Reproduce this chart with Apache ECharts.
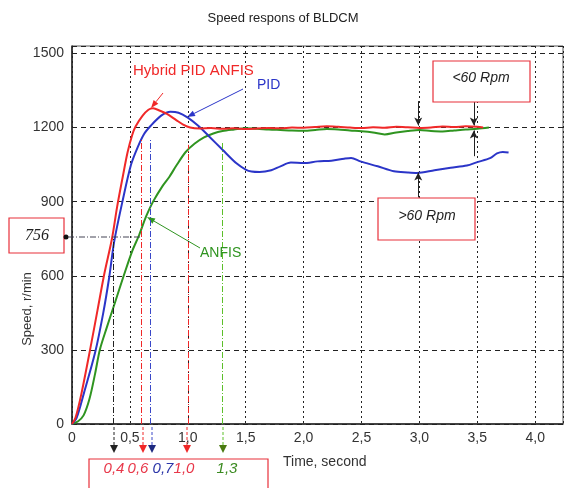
<!DOCTYPE html>
<html lang="en">
<head>
    <meta charset="UTF-8">
    <title>Speed respons of BLDCM</title>
    <script src="https://cdn.jsdelivr.net/npm/echarts@6/dist/echarts.min.js"></script>
    <style>
        html, body { margin: 0; padding: 0; background: #fff; }
        #main { width: 566px; height: 488px; }
    </style>
</head>
<body>
    <div id="main"></div>
    <script>
        // data: [time s, speed r/min]
        const hybridPidAnfis = [[0, 0], [0.03, 25], [0.08, 120], [0.16, 310], [0.22, 460], [0.28, 610], [0.345, 750], [0.39, 880], [0.44, 1005], [0.48, 1100], [0.52, 1170], [0.55, 1205], [0.61, 1248], [0.66, 1272], [0.7, 1278], [0.76, 1268], [0.82, 1255], [0.9, 1230], [0.96, 1212], [1.02, 1200], [1.1, 1196], [1.2, 1198], [1.3, 1195], [1.4, 1197], [1.5, 1194], [1.6, 1196], [1.7, 1198], [1.8, 1197], [1.9, 1200], [2.0, 1199], [2.1, 1202], [2.2, 1205], [2.3, 1203], [2.4, 1200], [2.5, 1198], [2.6, 1201], [2.7, 1199], [2.8, 1203], [2.9, 1201], [3.0, 1198], [3.1, 1200], [3.2, 1204], [3.3, 1202], [3.4, 1205], [3.5, 1203], [3.55, 1200]];
        const pid = [[0, 0], [0.04, 25], [0.1, 120], [0.2, 290], [0.27, 450], [0.32, 590], [0.365, 740], [0.44, 910], [0.51, 1050], [0.565, 1118], [0.62, 1172], [0.68, 1207], [0.77, 1248], [0.85, 1264], [0.92, 1260], [1.0, 1240], [1.09, 1207], [1.18, 1166], [1.3, 1110], [1.42, 1055], [1.5, 1030], [1.55, 1022], [1.62, 1020], [1.72, 1027], [1.8, 1043], [1.89, 1058], [2.0, 1056], [2.12, 1063], [2.24, 1066], [2.35, 1074], [2.41, 1077], [2.49, 1063], [2.64, 1043], [2.78, 1023], [2.9, 1018], [2.98, 1016], [3.13, 1027], [3.27, 1037], [3.41, 1046], [3.5, 1060], [3.61, 1076], [3.67, 1095], [3.72, 1101], [3.77, 1099]];
        const anfis = [[0, 0], [0.05, 10], [0.1, 35], [0.15, 100], [0.2, 205], [0.24, 300], [0.3, 390], [0.37, 490], [0.45, 605], [0.52, 700], [0.58, 765], [0.64, 840], [0.7, 900], [0.78, 962], [0.84, 1000], [0.9, 1045], [0.98, 1100], [1.06, 1135], [1.14, 1160], [1.22, 1176], [1.3, 1186], [1.4, 1192], [1.5, 1197], [1.6, 1195], [1.7, 1192], [1.8, 1190], [1.9, 1188], [2.0, 1187], [2.1, 1190], [2.2, 1194], [2.3, 1192], [2.4, 1188], [2.5, 1185], [2.6, 1180], [2.7, 1172], [2.8, 1180], [2.9, 1186], [3.0, 1190], [3.1, 1186], [3.2, 1184], [3.3, 1188], [3.4, 1192], [3.5, 1195], [3.6, 1200]];

        // marked times and the speed up to which their lines go
        const markTimes = [0.36, 0.6, 0.68, 1.0, 1.3];
        const markTops = [756, 1150, 1150, 1130, 1140];
        const markLabels = ['0,4', '0,6', '0,7', '1,0', '1,3'];

        const xTicks = [0, 0.5, 1.0, 1.5, 2.0, 2.5, 3.0, 3.5, 4.0];
        const yTicks = [0, 300, 600, 900, 1200, 1500];

        const RED = '#f02828', BLUE = '#2b35c8', GREEN = '#2f9420';
        const markColors = ['#222', RED, '#3a48c8', RED, '#5cbf2a'];
        const arrowColors = ['#222', RED, '#1e2a80', RED, '#4a7a10'];
        const markTextColors = ['#e8384a', '#e8384a', '#2b35a8', '#e8384a', '#3a8a20'];
        const FONT = '"Liberation Sans", Arial, sans-serif';

        const chart = echarts.init(document.getElementById('main'));

        function arrow(x1, y1, x2, y2, color, len = 8, w = 3) {
            const dx = x2 - x1, dy = y2 - y1;
            const d = Math.sqrt(dx * dx + dy * dy);
            const ux = dx / d, uy = dy / d;
            const bx = x2 - ux * len, by = y2 - uy * len;
            return {
                type: 'group',
                children: [
                    { type: 'line', shape: { x1: x1, y1: y1, x2: bx, y2: by }, style: { stroke: color, lineWidth: 1 } },
                    { type: 'polygon', shape: { points: [[x2, y2], [bx - uy * w, by + ux * w], [bx + uy * w, by - ux * w]] }, style: { fill: color } }
                ]
            };
        }

        function textBox(x, y, w, h) {
            return { type: 'rect', shape: { x: x, y: y, width: w, height: h }, style: { fill: '#fff', stroke: '#e8303a', lineWidth: 1.2 }, z: 100 };
        }

        function label(text, x, y, color, opts = {}) {
            return {
                type: 'text', x: x, y: y, z: 101, rotation: opts.rotation || 0,
                style: {
                    text: text, fill: color, font: (opts.italic ? 'italic ' : '') + (opts.size || 14) + 'px ' + (opts.family || FONT),
                    align: opts.align || 'left', verticalAlign: 'middle'
                }
            };
        }

        const dashDot = [6, 2, 1, 2];
        const verticalMarks = markTimes.map((t, i) => [
            { coord: [t, 0], lineStyle: { color: markColors[i], type: dashDot, width: 1 } },
            { coord: [t, markTops[i]] }
        ]);

        const rpmArrows = [
            [{ coord: [2.99, 1307] }, { coord: [2.99, 1208] }],
            [{ coord: [3.47, 1307] }, { coord: [3.47, 1208] }],
            [{ coord: [3.47, 1084] }, { coord: [3.47, 1188] }],
            [{ coord: [2.99, 917] }, { coord: [2.99, 1018] }]
        ];

        const graphics = [
            // legend labels with arrows
            label('Hybrid PID ANFIS', 133, 71, RED, { size: 15 }),
            arrow(163, 93, 151, 108, RED),
            label('PID', 257, 85, BLUE),
            arrow(243, 89, 187, 117, BLUE),
            label('ANFIS', 200, 253, GREEN),
            arrow(200, 248, 147, 217, GREEN),
            // 756 box
            textBox(9, 218, 55, 35),
            label('756', 37, 236, '#222', { italic: true, size: 16, align: 'center', family: '"Liberation Serif", serif' }),
            { type: 'circle', shape: { cx: 66, cy: 237, r: 2.5 }, style: { fill: '#111' }, z: 101 },
            { type: 'line', shape: { x1: 68, y1: 237, x2: 142, y2: 237 }, style: { stroke: '#445', lineWidth: 1, lineDash: dashDot }, z: 101 },
            // rpm boxes
            textBox(433, 61, 97, 41),
            label('<60 Rpm', 481, 78, '#222', { italic: true, align: 'center' }),
            textBox(378, 198, 97, 42),
            label('>60 Rpm', 427, 216, '#222', { italic: true, align: 'center' }),
            // axis names
            label('Speed, r/min', 27, 309, '#333', { rotation: Math.PI / 2, align: 'center', size: 13 }),
            label('Time, second', 283, 462, '#333'),
            // bottom box with times
            textBox(89, 459, 179, 40)
        ];

        const markPx = [114, 143, 152, 187, 223];
        const labelPx = [114, 138, 163, 184, 227];
        markPx.forEach((x, i) => {
            graphics.push({ type: 'line', shape: { x1: x, y1: 427, x2: x, y2: 445 }, style: { stroke: markColors[i], lineWidth: 1, lineDash: [3, 2] } });
            graphics.push({ type: 'polygon', shape: { points: [[x - 4, 445], [x + 4, 445], [x, 453]] }, style: { fill: arrowColors[i] } });
            graphics.push(label(markLabels[i], labelPx[i], 469, markTextColors[i], { italic: true, size: 15, align: 'center' }));
        });

        const option = {
            animation: false,
            title: {
                text: 'Speed respons of BLDCM', left: 'center', top: 7,
                textStyle: { fontSize: 13, fontWeight: 'normal', color: '#222', fontFamily: FONT }
            },
            grid: { left: 72, right: 0, top: 46, bottom: 64, show: true, borderColor: '#555', borderWidth: 1 },
            xAxis: {
                type: 'value', min: 0, max: 4.24, interval: 0.5,
                axisLine: { lineStyle: { color: '#222', width: 1.5 } },
                axisTick: { show: false },
                axisLabel: {
                    fontSize: 14, color: '#333', margin: 7, fontFamily: FONT,
                    formatter: v => xTicks.indexOf(v) < 0 ? '' : (v === 0 ? '0' : v.toFixed(1).replace('.', ','))
                },
                splitLine: { lineStyle: { color: '#222', type: [2, 3], width: 1 } }
            },
            yAxis: {
                type: 'value', min: 0, max: 1530, interval: 300,
                axisLine: { show: true, lineStyle: { color: '#222', width: 1.5 } },
                axisTick: { show: false },
                axisLabel: {
                    fontSize: 14, color: '#333', margin: 8, fontFamily: FONT,
                    formatter: v => yTicks.indexOf(v) < 0 ? '' : String(v)
                },
                splitLine: { lineStyle: { color: '#222', type: [5, 4], width: 1 } }
            },
            series: [
                {
                    name: 'ANFIS', type: 'line', data: anfis, showSymbol: false, smooth: 0.3, z: 3,
                    lineStyle: { color: GREEN, width: 2 }
                },
                {
                    name: 'PID', type: 'line', data: pid, showSymbol: false, smooth: 0.3, z: 4,
                    lineStyle: { color: BLUE, width: 2 },
                    markLine: {
                        silent: true, animation: false, symbol: ['none', 'arrow'], symbolSize: [6, 8],
                        label: { show: false },
                        lineStyle: { color: '#222', type: 'solid', width: 1 },
                        data: rpmArrows
                    }
                },
                {
                    name: 'Hybrid PID ANFIS', type: 'line', data: hybridPidAnfis, showSymbol: false, smooth: 0.3, z: 5,
                    lineStyle: { color: RED, width: 2 },
                    markLine: {
                        silent: true, animation: false, symbol: 'none', label: { show: false },
                        data: verticalMarks
                    }
                }
            ],
            graphic: graphics
        };

        chart.setOption(option);
    </script>
</body>
</html>
